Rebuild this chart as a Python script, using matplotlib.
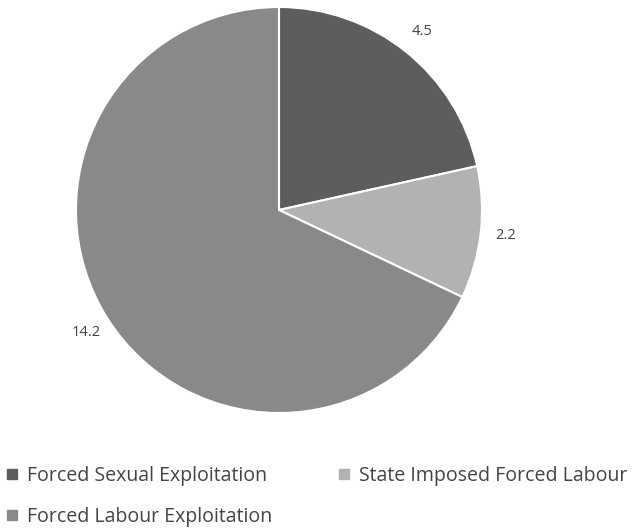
import matplotlib
matplotlib.use("Agg")
import matplotlib.pyplot as plt
from matplotlib.lines import Line2D

plt.rcParams['font.family'] = ['Open Sans', 'DejaVu Sans']

# data
categories = ['Forced Sexual Exploitation', 'State Imposed Forced Labour', 'Forced Labour Exploitation']
values = [4.5, 2.2, 14.2]
colors = ['#5d5d5d', '#b2b2b2', '#898989']
text_color = '#444444'

W, H = 639, 528
fig = plt.figure(figsize=(W / 100, H / 100), dpi=100)
renderer = fig.canvas.get_renderer()

# pie centred at (279, 210) px, radius 203 px
cx, cy, r = 279, 210, 203
ax = fig.add_axes([(cx - r) / W, (H - cy - r) / H, 2 * r / W, 2 * r / H])

wedges, texts = ax.pie(values, colors=colors, startangle=90, counterclock=False,
                       labels=[f"{v:g}" for v in values], labeldistance=1.125,
                       wedgeprops=dict(edgecolor='white', linewidth=1.5),
                       textprops=dict(color=text_color, fontsize=10.5))
for t in texts:
    t.set_ha('center')
    t.set_va('center')
ax.set_xlim(-1, 1)
ax.set_ylim(-1, 1)
ax.set_aspect('equal')


def text_width(s, size):
    t = fig.text(0, 0, s, fontsize=size)
    w = t.get_window_extent(renderer).width
    t.remove()
    return w


# legend font sized so "State Imposed Forced Labour" spans ~268 px
fs = 10 * 268 / text_width(categories[1], 10)
f_px = fs * 100 / 72
tw1 = text_width(categories[0], fs)

# legend rows: Sexual, State / Labour  (matplotlib fills column-wise)
order = [0, 2, 1]
handles = [Line2D([0], [0], marker='s', linestyle='none', markersize=7,
                  markerfacecolor=colors[i], markeredgecolor=colors[i]) for i in order]
hl, htp = 16 / f_px, 7 / f_px
cs = (358 - 26 - (hl + htp) * f_px - tw1 - 5) / f_px
leg = fig.legend(handles, [categories[i] for i in order], loc='upper left', ncol=2,
                 bbox_to_anchor=(4 / W, 1 - 460 / H), frameon=False,
                 fontsize=fs, handletextpad=htp, columnspacing=cs,
                 labelspacing=1.05, handlelength=hl, borderaxespad=0, borderpad=0)
for t in leg.get_texts():
    t.set_color(text_color)

# nudge legend so the first row is centred near y=476 px
fig.canvas.draw()
bb = leg.get_texts()[0].get_window_extent(renderer)
row1 = H - (bb.y0 + bb.y1) / 2
leg.set_bbox_to_anchor((4 / W, 1 - (460 + 476 - row1) / H), transform=fig.transFigure)

fig.savefig("out.png", dpi=100)
